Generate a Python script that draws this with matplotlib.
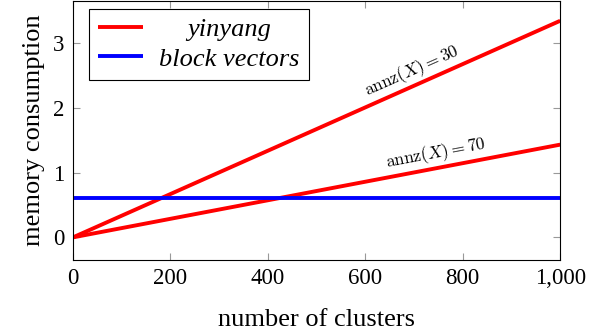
import numpy as np
import matplotlib
matplotlib.use('Agg')
import matplotlib.pyplot as plt
from matplotlib.ticker import FuncFormatter
from matplotlib.transforms import Affine2D

# data
clusters = [0, 1000]
yinyang_30 = [0, 3.34]
yinyang_70 = [0, 1.43]
block_vectors = [0.6, 0.6]

plt.rcParams['font.family'] = ['Liberation Serif', 'DejaVu Serif']
plt.rcParams['mathtext.fontset'] = 'cm'

fig = plt.figure(figsize=(6.03, 3.36), dpi=100)
ax = fig.add_axes([0.121, 0.226, 0.808, 0.772])

ax.plot(clusters, yinyang_30, color='red', lw=2.8, label='yinyang', solid_capstyle='butt')
ax.plot(clusters, yinyang_70, color='red', lw=2.8, solid_capstyle='butt')
ax.plot(clusters, block_vectors, color='blue', lw=2.8, label='block vectors', solid_capstyle='butt')

ax.set_xlim(0, 1000)
ax.set_ylim(-0.35, 3.65)
ax.set_xticks([0, 200, 400, 600, 800, 1000])
ax.set_yticks([0, 1, 2, 3])
ax.xaxis.set_major_formatter(FuncFormatter(lambda v, p: f'{int(v):,}'))
ax.tick_params(direction='in', length=5, width=0.8, color='#999999',
               top=True, right=True, labelsize=16.5, pad=6)
for s in ax.spines.values():
    s.set_linewidth(0.8)

ax.set_xlabel('number of clusters', fontsize=19, labelpad=14)
ax.set_ylabel('memory consumption', fontsize=19, labelpad=6)

# line labels
ax.text(705, 2.4, r'$\mathrm{annz}(X) = 30$', fontsize=12.5, rotation=23.9,
        rotation_mode='anchor', ha='center', va='bottom')
ax.text(750, 1.12, r'$\mathrm{annz}(X) = 70$', fontsize=12.5, rotation=10.7,
        rotation_mode='anchor', ha='center', va='bottom')

leg = ax.legend(loc='upper left', prop={'style': 'italic', 'size': 19},
                fancybox=False, edgecolor='black', framealpha=1,
                handlelength=1.7, handletextpad=0.6, borderpad=0.35,
                labelspacing=0.22, borderaxespad=0,
                bbox_to_anchor=(0.033, 0.969))
leg.get_frame().set_linewidth(0.8)

# centre the legend texts like pgfplots does
fig.canvas.draw()
r = fig.canvas.get_renderer()
texts = leg.get_texts()
widths = [t.get_window_extent(r).width for t in texts]
wmax = max(widths)
for t, w in zip(texts, widths):
    t.set_transform(t.get_transform() + Affine2D().translate((wmax - w) / 2, 0))

fig.savefig('out.png', dpi=100)
